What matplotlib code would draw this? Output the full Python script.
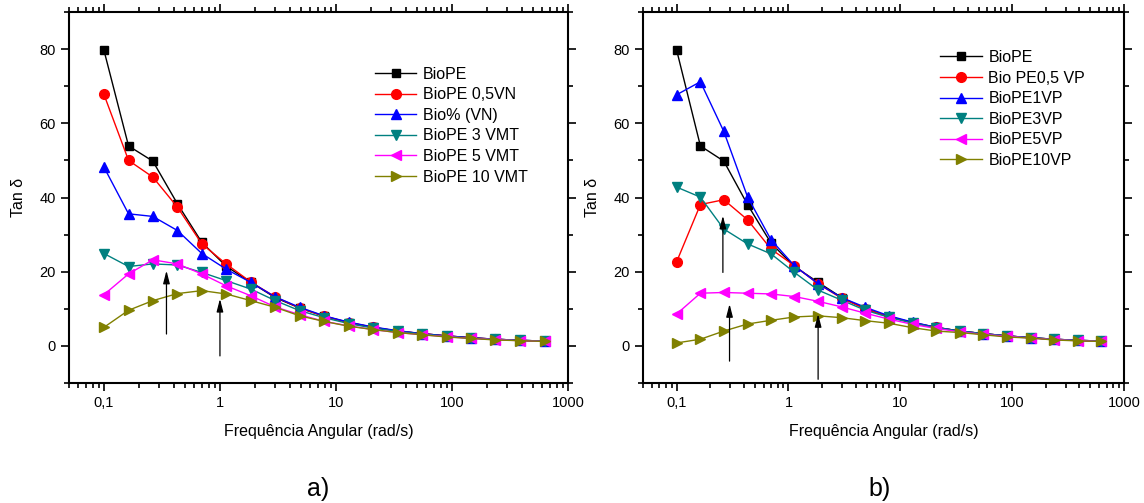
import matplotlib
matplotlib.use("Agg")
import matplotlib.pyplot as plt
from matplotlib.ticker import LogLocator, FuncFormatter, MultipleLocator, NullFormatter

plt.rcParams['font.family'] = ['Liberation Sans', 'DejaVu Sans']

# frequency points (rad/s)
freq = [0.1, 0.163, 0.264, 0.43, 0.698, 1.13, 1.85, 3.0, 4.87, 7.92,
        12.9, 20.9, 34.0, 55.3, 89.9, 146, 237, 386, 628]

# panel a) tan delta
labels_a = ['BioPE', 'BioPE 0,5VN', 'Bio% (VN)', 'BioPE 3 VMT', 'BioPE 5 VMT', 'BioPE 10 VMT']
biope_a = [79.7, 53.9, 49.8, 38.3, 27.9, 21.5, 17.1, 13.0, 10.2, 8.0, 6.3, 5.0, 4.0, 3.3, 2.7, 2.2, 1.8, 1.5, 1.3]
vn05_a = [67.8, 50.0, 45.5, 37.4, 27.5, 22.1, 17.2, 13.2, 10.2, 8.0, 6.3, 5.0, 4.0, 3.3, 2.7, 2.2, 1.8, 1.5, 1.3]
vn_a = [48.2, 35.6, 34.9, 31.1, 24.9, 20.7, 17.1, 13.2, 10.4, 8.1, 6.4, 5.1, 4.1, 3.3, 2.7, 2.2, 1.8, 1.5, 1.3]
vmt3_a = [24.9, 21.4, 22.1, 21.8, 19.8, 17.6, 15.3, 12.2, 9.5, 7.6, 6.0, 4.8, 3.9, 3.2, 2.6, 2.1, 1.8, 1.5, 1.3]
vmt5_a = [13.8, 19.4, 23.2, 22.1, 19.4, 16.2, 13.5, 10.5, 8.4, 6.6, 5.4, 4.4, 3.6, 3.0, 2.5, 2.0, 1.7, 1.4, 1.2]
vmt10_a = [5.0, 9.6, 12.2, 14.1, 14.9, 14.0, 12.2, 10.4, 8.1, 6.6, 5.3, 4.4, 3.6, 3.0, 2.4, 2.0, 1.6, 1.4, 1.2]

# panel b) tan delta
labels_b = ['BioPE', 'Bio PE0,5 VP', 'BioPE1VP', 'BioPE3VP', 'BioPE5VP', 'BioPE10VP']
biope_b = [79.7, 53.9, 49.8, 38.1, 27.7, 21.4, 17.1, 13.0, 10.0, 7.9, 6.3, 5.0, 4.0, 3.3, 2.7, 2.2, 1.8, 1.5, 1.3]
vp05_b = [22.7, 38.1, 39.4, 34.0, 26.1, 21.6, 16.7, 12.8, 10.0, 7.9, 6.2, 5.0, 4.0, 3.3, 2.7, 2.2, 1.8, 1.5, 1.3]
vp1_b = [67.7, 71.2, 57.8, 40.2, 28.6, 21.6, 16.7, 13.0, 10.4, 8.1, 6.4, 5.0, 4.0, 3.3, 2.7, 2.2, 1.8, 1.5, 1.3]
vp3_b = [42.8, 40.1, 31.5, 27.5, 24.8, 19.8, 15.0, 12.3, 9.6, 7.7, 6.1, 4.9, 4.0, 3.3, 2.7, 2.2, 1.8, 1.5, 1.3]
vp5_b = [8.6, 14.2, 14.4, 14.2, 14.0, 13.3, 12.0, 10.5, 8.8, 7.2, 5.8, 4.7, 3.8, 3.1, 2.6, 2.1, 1.7, 1.4, 1.2]
vp10_b = [0.8, 1.8, 4.0, 5.9, 6.9, 7.8, 8.1, 7.6, 6.8, 6.1, 4.9, 4.0, 3.6, 3.0, 2.4, 2.1, 1.6, 1.35, 1.2]

# arrows: (x, y_tail, y_tip)
arrows_a = [(0.346, 3.2, 20.3), (1.0, -2.7, 12.7)]
arrows_b = [(0.259, 19.8, 35.1), (0.297, -4.1, 11.3), (1.84, -9.0, 8.6)]

colors = ['black', 'red', 'blue', '#008080', 'magenta', '#808000']
markers = ['s', 'o', '^', 'v', '<', '>']
msizes = [6, 7, 7.5, 7.5, 7.5, 7.5]

fig = plt.figure(figsize=(11.44, 5.03), dpi=100)
ax_a = fig.add_axes([69 / 1144, 120 / 503, 499 / 1144, 371 / 503])
ax_b = fig.add_axes([643 / 1144, 120 / 503, 481 / 1144, 371 / 503])


def fmt(v, pos):
    if v < 1:
        return f"{v:g}".replace('.', ',')
    return f"{v:g}" if v < 1000 else "1000"


def draw(ax, series, labels, arrows, legend_anchor):
    for ys, lab, c, m, s in zip(series, labels, colors, markers, msizes):
        ax.plot(freq, ys, color=c, marker=m, ms=s, lw=1.0, label=lab)
    for x, y0, y1 in arrows:
        ax.annotate('', xy=(x, y1), xytext=(x, y0),
                    arrowprops=dict(arrowstyle='-|>,head_length=0.7,head_width=0.18',
                                    color='black', lw=0.9,
                                    mutation_scale=11, shrinkA=0, shrinkB=0))
    ax.set_xscale('log')
    ax.set_xlim(0.05, 1000)
    ax.set_ylim(-10, 90)
    ax.xaxis.set_major_locator(LogLocator(base=10, numticks=10))
    ax.xaxis.set_minor_locator(LogLocator(base=10, subs=range(2, 10), numticks=20))
    ax.xaxis.set_major_formatter(FuncFormatter(fmt))
    ax.xaxis.set_minor_formatter(NullFormatter())
    ax.yaxis.set_major_locator(MultipleLocator(20))
    ax.yaxis.set_minor_locator(MultipleLocator(10))
    ax.tick_params(which='both', direction='out', top=True, right=True, labelsize=10.5, width=1.2)
    ax.tick_params(which='major', length=6)
    ax.tick_params(which='minor', length=3.5)
    for sp in ax.spines.values():
        sp.set_linewidth(1.5)
    ax.set_xlabel('Frequência Angular (rad/s)', fontsize=11.5, labelpad=10)
    ax.set_ylabel('Tan δ', fontsize=11.5, labelpad=10)
    ax.legend(loc='upper left', bbox_to_anchor=legend_anchor, frameon=False,
              fontsize=11.5, handlelength=2.6, handletextpad=0.4,
              labelspacing=0.35, borderaxespad=0)


draw(ax_a, [biope_a, vn05_a, vn_a, vmt3_a, vmt5_a, vmt10_a], labels_a, arrows_a, (0.6, 0.87))
draw(ax_b, [biope_b, vp05_b, vp1_b, vp3_b, vp5_b, vp10_b], labels_b, arrows_b, (0.605, 0.915))

fig.text(0.278, 0.027, 'a)', fontsize=18, ha='center', va='center')
fig.text(0.769, 0.027, 'b)', fontsize=18, ha='center', va='center')

fig.savefig('out.png', dpi=100)
